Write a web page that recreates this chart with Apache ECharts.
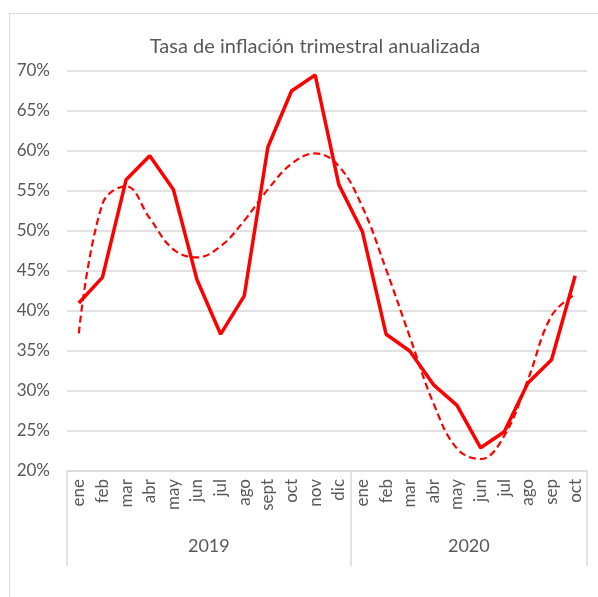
<!DOCTYPE html>
<html>
<head>
<meta charset="utf-8">
<script src="https://cdn.jsdelivr.net/npm/echarts@6/dist/echarts.min.js"></script>
<style>
  html, body { margin: 0; padding: 0; background: #fff; }
  .frame {
    position: absolute;
    left: 9px;
    top: 13px;
    width: 600px;
    height: 600px;
    border: 1.5px solid #d9d9d9;
  }
  #chart { position: absolute; left: 0; top: 0; width: 598px; height: 597px; }
</style>
</head>
<body>
<div class="frame"></div>
<div id="chart"></div>
<script>
// meses de cada año
const months = ['ene', 'feb', 'mar', 'abr', 'may', 'jun', 'jul', 'ago', 'sept', 'oct', 'nov', 'dic',
  'ene', 'feb', 'mar', 'abr', 'may', 'jun', 'jul', 'ago', 'sep', 'oct'];
const years = ['2019', '2020'];
const monthsPerYear = [12, 10];

// tasa trimestral anualizada (%)
const tasa = [41.0, 44.2, 56.4, 59.4, 55.2, 43.9, 37.1, 41.9, 60.5, 67.5, 69.5, 55.8,
  49.9, 37.1, 35.0, 30.8, 28.2, 22.9, 24.9, 31.0, 33.9, 44.4];
// tendencia (línea punteada)
const tendencia = [37.2, 53.4, 55.6, 51.6, 47.7, 46.7, 48.1, 51.3, 55.2, 58.4, 59.7, 58.1,
  53.0, 45.2, 36.8, 28.5, 22.8, 21.5, 24.4, 31.4, 39.4, 42.1];

const yTicks = { min: 20, max: 70, step: 5 };

// posiciones de los separadores y centros de cada año (en índices de mes)
const yearStarts = [];
const yearCenters = {};
let acc = 0;
monthsPerYear.forEach((n, i) => {
  yearStarts.push(acc);
  yearCenters[acc + n / 2] = years[i];
  acc += n;
});

const gray = '#595959';
const lineGray = '#d9d9d9';
const font = 'Lato, "Open Sans", sans-serif';

const chart = echarts.init(document.getElementById('chart'));
chart.setOption({
  animation: false,
  title: {
    text: 'Tasa de inflación trimestral anualizada',
    left: 310,
    top: 32,
    textAlign: 'center',
    textStyle: { color: gray, fontSize: 20, fontWeight: 'normal', fontFamily: font },
  },
  grid: { left: 67, right: 11, top: 71, bottom: 126 },
  xAxis: [
    {
      type: 'category',
      position: 'bottom',
      data: months,
      axisLine: { lineStyle: { color: lineGray, width: 1.5 } },
      axisTick: {
        show: true,
        length: 95,
        interval: (i) => yearStarts.includes(i),
        lineStyle: { color: lineGray, width: 1.5 },
      },
      axisLabel: {
        rotate: 90,
        interval: 0,
        margin: 8,
        color: gray,
        fontSize: 17,
        fontFamily: font,
      },
    },
    {
      type: 'value',
      position: 'bottom',
      min: 0,
      max: months.length,
      interval: 1,
      axisLine: { show: false },
      axisTick: { show: false },
      splitLine: { show: false },
      axisLabel: {
        margin: 66,
        color: gray,
        fontSize: 18,
        fontFamily: font,
        showMinLabel: true,
        showMaxLabel: true,
        formatter: (v) => yearCenters[v] || '',
      },
    },
  ],
  yAxis: {
    type: 'value',
    min: yTicks.min,
    max: yTicks.max,
    interval: yTicks.step,
    axisLine: { show: false },
    axisTick: { show: false },
    axisLabel: {
      formatter: '{value}%',
      color: gray,
      fontSize: 17,
      margin: 17,
      fontFamily: font,
    },
    splitLine: { lineStyle: { color: lineGray, width: 1.5 } },
  },
  series: [
    {
      name: 'Tasa',
      type: 'line',
      data: tasa,
      symbol: 'none',
      lineStyle: { color: '#ff0000', width: 3.5 },
      z: 3,
    },
    {
      name: 'Tendencia',
      type: 'line',
      data: tendencia,
      symbol: 'none',
      smooth: 0.4,
      lineStyle: { color: '#ff0000', width: 2.2, type: [7, 4] },
      z: 2,
    },
  ],
});
</script>
</body>
</html>
